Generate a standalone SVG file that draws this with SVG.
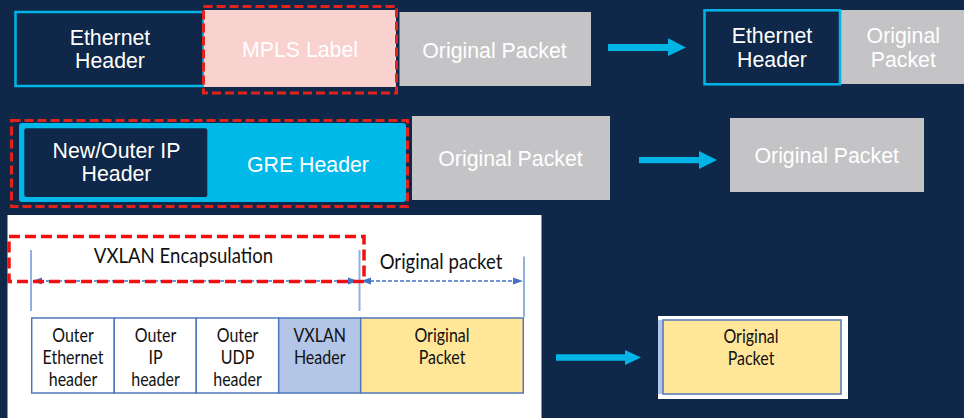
<svg xmlns="http://www.w3.org/2000/svg" width="964" height="418" viewBox="0 0 964 418">
<style>
.bg{fill:#0f2748}
.navy{fill:#0f2748;stroke:#00b5e6;stroke-width:2.5}
.gray{fill:#c4c4c6}
.pink{fill:#f9d1cf}
.cyanfill{fill:#00b9e9}
.reddash{fill:none;stroke:#e3221c;stroke-width:3;stroke-dasharray:9 4}
.reddash2{fill:none;stroke:#f01010;stroke-width:3.5;stroke-dasharray:11 5}
.wt{font-family:"Liberation Sans",Arial,sans-serif;font-size:21.3px;fill:#ffffff;text-anchor:middle}
.ct{font-family:Lato,"Open Sans",sans-serif;fill:#111111;text-anchor:middle}
.lbl{font-size:18.6px}
.tt{font-size:16px}
.cell{stroke:#5077bb;stroke-width:1.5}
.vline{stroke:#8fb0e0;stroke-width:2}
.dim{stroke:#4472c4;stroke-width:1.5;stroke-dasharray:4 2;fill:none}
.head{fill:#4472c4}
.arrow{fill:#00b5e6}
</style>
<rect class="bg" x="0" y="0" width="964" height="418"/>

<!-- Row 1: MPLS -->
<g id="mpls-eth-header">
<rect class="navy" x="15.5" y="12" width="188" height="74"/>
<text class="wt" x="110" y="45">Ethernet</text>
<text class="wt" x="110" y="68.3">Header</text>
</g>
<g id="mpls-label">
<rect class="pink" x="204" y="10" width="192" height="77"/>
<text class="wt" x="300" y="57.3">MPLS Label</text>
<rect class="reddash" x="203.5" y="6.5" width="193" height="86.5"/>
</g>
<g id="mpls-orig-packet">
<rect class="gray" x="399.5" y="12" width="191.5" height="74"/>
<text class="wt" x="494.5" y="57.8">Original Packet</text>
</g>
<g id="mpls-result-eth">
<rect class="gray" x="838" y="10" width="126" height="74"/>
<rect class="navy" x="704.5" y="10.3" width="135.5" height="74"/>
<text class="wt" x="772" y="42.7">Ethernet</text>
<text class="wt" x="772" y="66.7">Header</text>
</g>
<g id="mpls-result-orig">
<text class="wt" x="903.3" y="42.7">Original</text>
<text class="wt" x="903.3" y="66.7">Packet</text>
</g>

<!-- Row 2: GRE -->
<g id="gre-header">
<rect class="cyanfill" x="19" y="123" width="387" height="79" rx="3"/>
<rect fill="#0f2748" x="24.3" y="128.3" width="183" height="68.7" rx="2"/>
<text class="wt" x="116.5" y="158.3">New/Outer IP</text>
<text class="wt" x="116.5" y="181">Header</text>
<text class="wt" x="308" y="171.7">GRE Header</text>
<rect class="reddash" x="11.5" y="120.5" width="396" height="86"/>
</g>
<g id="gre-orig-packet">
<rect class="gray" x="412" y="116" width="198" height="84"/>
<text class="wt" x="510.5" y="165.7">Original Packet</text>
</g>
<g id="gre-result">
<rect class="gray" x="730" y="118" width="194" height="74"/>
<text class="wt" x="826.7" y="162.7">Original Packet</text>
</g>

<!-- Row 3: VXLAN -->
<g id="vxlan-panel">
<rect fill="#ffffff" x="7.5" y="215" width="534" height="203"/>
<line class="vline" x1="31" y1="250" x2="31" y2="311"/>
<line class="vline" x1="359.5" y1="250" x2="359.5" y2="311"/>
<line class="vline" x1="524" y1="256.5" x2="524" y2="317"/>
<line class="dim" x1="40" y1="281" x2="350" y2="281"/>
<polygon class="head" points="32,281 42,277.5 42,284.5"/>
<polygon class="head" points="358,281 348,277.5 348,284.5"/>
<line class="dim" x1="370" y1="281" x2="514" y2="281"/>
<polygon class="head" points="361,281 371,277.5 371,284.5"/>
<polygon class="head" points="523,281 513,277.5 513,284.5"/>
<text class="ct lbl" transform="translate(183.5,263) scale(1,1.12)">VXLAN Encapsulation</text>
<text class="ct lbl" transform="translate(441,269) scale(1,1.12)">Original packet</text>
<rect class="reddash2" x="9" y="236.5" width="355" height="45"/>
</g>
<g id="vxlan-table">
<rect class="cell" fill="#ffffff" x="31.7" y="318" width="82.6" height="75"/>
<rect class="cell" fill="#ffffff" x="114.3" y="318" width="82" height="75"/>
<rect class="cell" fill="#ffffff" x="196.3" y="318" width="82.4" height="75"/>
<rect class="cell" fill="#b4c6e7" x="278.7" y="318" width="82" height="75"/>
<rect class="cell" fill="#ffe699" x="360.7" y="318" width="162.6" height="75"/>
<text class="ct tt" transform="translate(73,341.5) scale(1,1.15)">Outer</text>
<text class="ct tt" transform="translate(73,364) scale(1,1.15)">Ethernet</text>
<text class="ct tt" transform="translate(73,386) scale(1,1.15)">header</text>
<text class="ct tt" transform="translate(155.5,341.5) scale(1,1.15)">Outer</text>
<text class="ct tt" transform="translate(155.5,364) scale(1,1.15)">IP</text>
<text class="ct tt" transform="translate(155.5,386) scale(1,1.15)">header</text>
<text class="ct tt" transform="translate(237.5,341.5) scale(1,1.15)">Outer</text>
<text class="ct tt" transform="translate(237.5,364) scale(1,1.15)">UDP</text>
<text class="ct tt" transform="translate(237.5,386) scale(1,1.15)">header</text>
<text class="ct tt" transform="translate(319.7,341.5) scale(1,1.15)">VXLAN</text>
<text class="ct tt" transform="translate(319.7,364) scale(1,1.15)">Header</text>
<text class="ct tt" transform="translate(442,341.5) scale(1,1.15)">Original</text>
<text class="ct tt" transform="translate(442,364) scale(1,1.15)">Packet</text>
</g>
<g id="vxlan-result">
<rect fill="#ffffff" x="658" y="316" width="190" height="83"/>
<rect fill="#b4c6e7" x="658" y="320" width="5" height="74"/>
<rect class="cell" fill="#ffe699" x="663" y="320" width="178" height="74"/>
<text class="ct tt" transform="translate(751,342.7) scale(1,1.15)">Original</text>
<text class="ct tt" transform="translate(751,365) scale(1,1.15)">Packet</text>
</g>

<!-- Connectors -->
<g id="connectors">
<polygon class="arrow" points="608,44 668,44 668,38.3 686,47.5 668,56 668,51 608,51"/>
<polygon class="arrow" points="639,157 699,157 699,151 717,160 699,169 699,163.3 639,163.3"/>
<polygon class="arrow" points="556,354.3 625,354.3 625,350 641,357.5 625,365 625,360.7 556,360.7"/>
</g>
</svg>
